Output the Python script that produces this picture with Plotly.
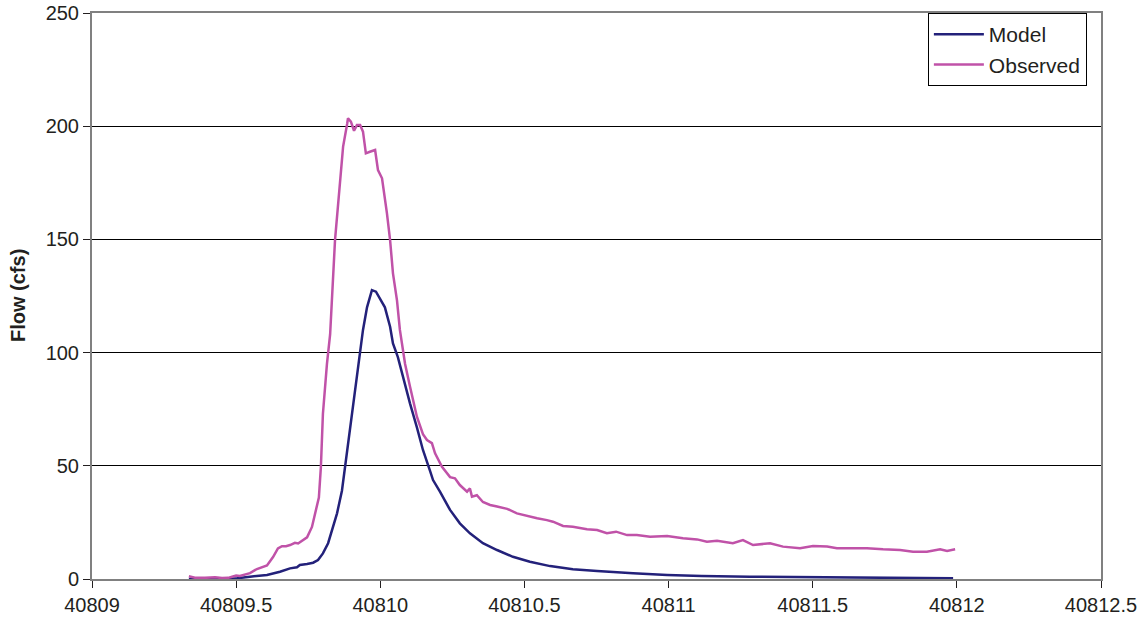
import plotly.graph_objects as go

# ---- data ----
obs_x = [40809.336, 40809.357, 40809.392, 40809.427, 40809.451, 40809.472, 40809.486,
         40809.500, 40809.513, 40809.531, 40809.548, 40809.572, 40809.593, 40809.607,
         40809.628, 40809.645, 40809.659, 40809.673, 40809.687, 40809.704, 40809.715,
         40809.732, 40809.746, 40809.763, 40809.780, 40809.787, 40809.794, 40809.801,
         40809.815, 40809.826, 40809.843, 40809.860, 40809.871, 40809.885, 40809.888,
         40809.898, 40809.909, 40809.919, 40809.930, 40809.940, 40809.950, 40809.964,
         40809.982, 40809.992, 40810.006, 40810.023, 40810.034, 40810.044, 40810.058,
         40810.068, 40810.086, 40810.103, 40810.127, 40810.148, 40810.162, 40810.179,
         40810.190, 40810.214, 40810.242, 40810.259, 40810.276, 40810.301, 40810.311,
         40810.318, 40810.335, 40810.356, 40810.381, 40810.405, 40810.440, 40810.474,
         40810.509, 40810.544, 40810.578, 40810.599, 40810.634, 40810.668, 40810.717,
         40810.752, 40810.786, 40810.818, 40810.856, 40810.890, 40810.936, 40810.995,
         40811.050, 40811.099, 40811.133, 40811.168, 40811.223, 40811.258, 40811.293,
         40811.352, 40811.397, 40811.456, 40811.501, 40811.550, 40811.584, 40811.629,
         40811.688, 40811.744, 40811.803, 40811.848, 40811.896, 40811.942, 40811.966,
         40811.994]
obs_y = [1.2, 0.6, 0.5, 0.8, 0.4, 0.5, 1.0,
         1.5, 1.3, 2.0, 2.6, 4.4, 5.5, 6.0,
         9.7, 13.5, 14.5, 14.5, 15.0, 16.0, 15.7,
         17.2, 18.4, 23.0, 32.0, 36.0, 49.6, 73.0,
         95.0, 108.0, 149.7, 175.0, 191.0, 201.0, 203.5,
         202.0, 198.0, 200.5, 200.5, 197.6, 188.0, 188.7,
         189.5, 180.6, 177.0, 161.6, 149.7, 135.0, 123.0,
         110.0, 95.0, 85.0, 71.7, 64.0, 61.4, 60.0,
         55.5, 49.6, 45.0, 44.5, 41.5, 38.6, 40.0,
         36.4, 37.0, 34.0, 32.7, 32.0, 31.0, 29.0,
         27.8, 26.8, 26.0, 25.3, 23.4, 23.1, 22.0,
         21.6, 20.2, 20.9, 19.4, 19.4, 18.7, 19.0,
         18.0, 17.5, 16.5, 16.9, 15.8, 17.2, 15.0,
         15.8, 14.3, 13.6, 14.6, 14.3, 13.6, 13.6,
         13.6, 13.1, 12.8, 12.0, 12.0, 13.1, 12.4,
         13.1]

mod_x = [40809.336, 40809.444, 40809.503, 40809.548, 40809.607, 40809.652, 40809.687,
         40809.711, 40809.721, 40809.746, 40809.767, 40809.784, 40809.801, 40809.819,
         40809.833, 40809.850, 40809.867, 40809.878, 40809.895, 40809.912, 40809.930,
         40809.940, 40809.954, 40809.971, 40809.985, 40810.002, 40810.016, 40810.034,
         40810.044, 40810.061, 40810.079, 40810.103, 40810.127, 40810.148, 40810.172,
         40810.183, 40810.207, 40810.242, 40810.276, 40810.311, 40810.356, 40810.405,
         40810.460, 40810.519, 40810.589, 40810.668, 40810.752, 40810.831, 40810.877,
         40810.995, 40811.115, 40811.282, 40811.456, 40811.688, 40811.987]
mod_y = [0.0, 0.05, 0.3, 1.0, 1.8, 3.2, 4.7,
         5.2, 6.2, 6.6, 7.2, 8.4, 11.3, 15.8,
         21.6, 29.0, 39.0, 49.6, 66.0, 83.5, 99.7,
         110.0, 120.0, 127.6, 126.9, 123.0, 120.0, 111.4,
         104.0, 98.0, 89.0, 77.6, 67.0, 57.0, 48.0,
         43.7, 38.6, 30.5, 24.6, 20.2, 15.8, 12.8,
         9.8, 7.6, 5.7, 4.3, 3.5, 2.8, 2.5,
         1.8, 1.3, 1.0, 0.75, 0.45, 0.3]

x_ticks = [40809, 40809.5, 40810, 40810.5, 40811, 40811.5, 40812, 40812.5]
x_tick_labels = ["40809", "40809.5", "40810", "40810.5", "40811", "40811.5", "40812", "40812.5"]
y_ticks = [0, 50, 100, 150, 200, 250]

FONT = "Liberation Sans, Arial, sans-serif"
TXT = "#231F20"

fig = go.Figure()
fig.add_trace(go.Scatter(x=mod_x, y=mod_y, mode="lines", name="Model",
                         line=dict(color="#23217A", width=2.5)))
fig.add_trace(go.Scatter(x=obs_x, y=obs_y, mode="lines", name="Observed",
                         line=dict(color="#C052A8", width=2.5)))

fig.update_layout(
    width=1147, height=626,
    margin=dict(l=92, r=46, t=13, b=47, autoexpand=False),
    paper_bgcolor="white", plot_bgcolor="white",
    font=dict(family=FONT, size=20, color=TXT),
    showlegend=True,
    legend=dict(x=0.986, xanchor="right", y=1.0, yanchor="top",
                bordercolor="black", borderwidth=1, bgcolor="white",
                font=dict(size=21, family=FONT, color=TXT),
                itemwidth=50, tracegroupgap=0),
    annotations=[dict(text="<b>Flow (cfs)</b>", xref="paper", yref="paper",
                      x=-0.0733, y=0.5, xanchor="center", yanchor="middle",
                      textangle=-90, showarrow=False,
                      font=dict(size=20, family=FONT, color=TXT))],
)
fig.update_xaxes(range=[40809, 40812.5], tickvals=x_ticks, ticktext=x_tick_labels,
                 automargin=False, ticklabeloverflow="allow",
                 showgrid=False, zeroline=False, showline=True, linecolor="#808080",
                 linewidth=2, mirror=True, ticks="outside", ticklen=7, tickwidth=1,
                 tickcolor=TXT, tickfont=dict(size=20, family=FONT, color=TXT))
fig.update_yaxes(range=[0, 250], tickvals=y_ticks, automargin=False,
                 ticklabeloverflow="allow",
                 showgrid=True, gridcolor="#000000",
                 gridwidth=1, zeroline=False, showline=True, linecolor="#808080",
                 linewidth=2, mirror=True, ticks="outside", ticklen=7, tickwidth=1,
                 tickcolor=TXT, tickfont=dict(size=20, family=FONT, color=TXT))

# remove the browser's default 8px body margin so the figure fills the window
fig.write_html("out.html",
               config={"displayModeBar": False},
               post_script="document.body.style.margin='0';document.body.style.overflow='hidden';")
